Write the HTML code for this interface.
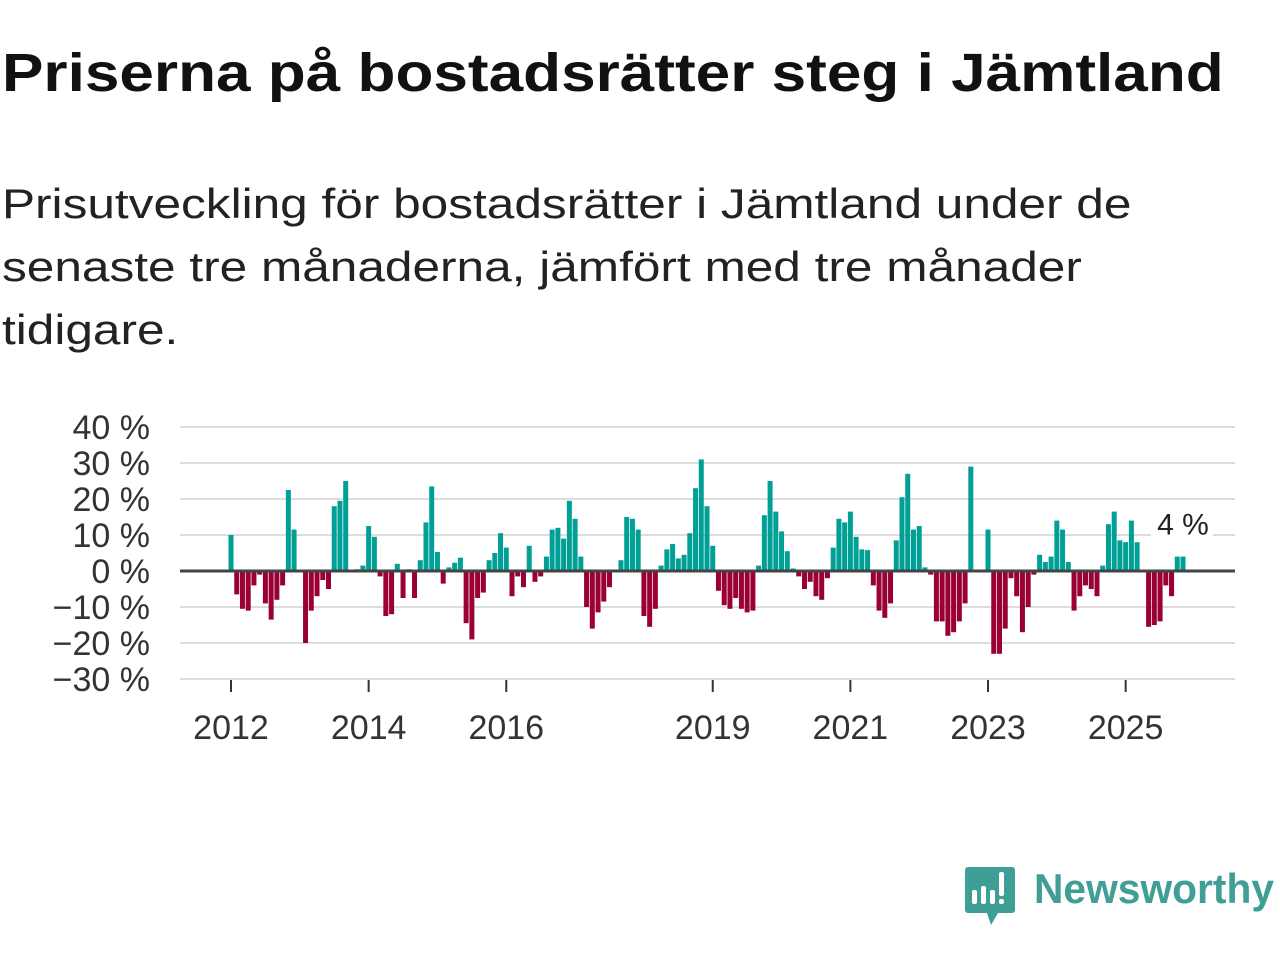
<!DOCTYPE html>
<html><head><meta charset="utf-8">
<style>
body{margin:0;background:#fff;width:1280px;height:960px;overflow:hidden;font-family:"Liberation Sans","DejaVu Sans",sans-serif;}
#title{position:absolute;left:2px;top:42px;font-size:54px;font-weight:bold;color:#111;white-space:nowrap;transform:scaleX(1.15);transform-origin:0 0;}
#sub{position:absolute;left:2px;top:172px;font-size:42px;line-height:63px;color:#222;white-space:nowrap;transform:scaleX(1.18);transform-origin:0 0;}
svg{position:absolute;left:0;top:0;}
</style></head><body>
<div id="title">Priserna på bostadsrätter steg i Jämtland</div>
<div id="sub">Prisutveckling för bostadsrätter i Jämtland under de<br>senaste tre månaderna, jämfört med tre månader<br>tidigare.</div>
<svg id="chart" width="1280" height="960"></svg>
<script>
const startYear = 2012;
const values = [
10,-6.5,-10.5,-11,-4,-1,-9,-13.5,-8,-4,22.5,11.5,
0,-20,-11,-7,-2.5,-5,18,19.5,25,0,0.5,1.5,
12.5,9.5,-1.5,-12.5,-12,2,-7.5,0.5,-7.5,3,13.5,23.5,
5.3,-3.5,1,2.3,3.7,-14.5,-19,-7.5,-6,3,5,10.5,
6.5,-7,-1.5,-4.5,7,-3,-1.5,4,11.5,12,9,19.5,
14.5,4,-10,-16,-11.5,-8.5,-4.5,0,3,15,14.5,11.5,
-12.5,-15.5,-10.5,1.5,6,7.5,3.5,4.5,10.5,23,31,18,
7,-5.5,-9.5,-10.5,-7.5,-10.5,-11.5,-11,1.5,15.5,25,16.5,
11,5.5,0.7,-1.5,-5,-3,-7,-8,-2,6.5,14.5,13.5,
16.5,9.5,6,5.8,-4,-11,-13,-9,8.5,20.5,27,11.5,
12.5,1,-1,-14,-14,-18,-17,-14,-9,29,0,0,
11.5,-23,-23,-16,-2,-7,-17,-10,-1,4.5,2.5,4,
14,11.5,2.5,-11,-7,-4,-5,-7,1.5,13,16.5,8.5,
8,14,8,0,-15.5,-15,-14,-4,-7,4,4
];
const yTicks = [40,30,20,10,0,-10,-20,-30];
const yTickLabels = ["40 %","30 %","20 %","10 %","0 %","−10 %","−20 %","−30 %"];
const xTickYears = [2012,2014,2016,2019,2021,2023,2025];
const lastLabel = "4 %";

const NS="http://www.w3.org/2000/svg";
const svg=document.getElementById('chart');
const y=v=>571-v*3.6;
const x=i=>231+i*5.735;
const xYear=yr=>x((yr-startYear)*12);
function mk(t,a,p){const e=document.createElementNS(NS,t);for(const k in a)e.setAttribute(k,a[k]);(p||svg).appendChild(e);return e;}

yTicks.forEach((t,k)=>{
  if(t!==0){const g=mk('line',{x1:180,x2:1235,y1:y(t),y2:y(t),stroke:'#ddd','stroke-width':2});
  
  }
  const l=mk('text',{x:150,y:y(t)+12,'text-anchor':'end','font-size':34,fill:'#333','font-family':'Liberation Sans, DejaVu Sans, sans-serif'});
  l.textContent=yTickLabels[k];
  
  
});
values.forEach((v,i)=>{
  if(v===0)return;
  const b=mk('rect',{x:x(i)-2.5,width:5,y:Math.min(y(v),y(0)),height:Math.abs(y(v)-y(0)),fill:v>0?'#00a096':'#9a0036'});
  
  
});
const z=mk('line',{x1:180,x2:1235,y1:y(0),y2:y(0),stroke:'#444','stroke-width':3});


xTickYears.forEach(yr=>{
  const t=mk('line',{x1:xYear(yr),x2:xYear(yr),y1:680,y2:692,stroke:'#333','stroke-width':2});
  
  
  const l=mk('text',{x:xYear(yr),y:739,'text-anchor':'middle','font-size':34,fill:'#333','font-family':'Liberation Sans, DejaVu Sans, sans-serif'});
  l.textContent=yr;
  
  
});
const li=values.length-1;
const bg=mk('rect',{x:x(li)-32,y:y(values[li])-45,width:62,height:34,fill:'#fff'});


const vl=mk('text',{x:x(li),y:y(values[li])-22,'text-anchor':'middle','font-size':30,fill:'#222','font-family':'Liberation Sans, DejaVu Sans, sans-serif'});
vl.textContent=lastLabel;


</script>
<svg width="1280" height="960" style="pointer-events:none">
<path d="M968 867 h44 a3 3 0 0 1 3 3 v40 a3 3 0 0 1 -3 3 h-14 l-7 12 l-4 -12 h-19 a3 3 0 0 1 -3 -3 v-40 a3 3 0 0 1 3 -3z" fill="#3f9e95"/>
<rect x="972" y="890" width="5" height="14" rx="2" fill="#fff"/>
<rect x="981" y="886" width="5" height="18" rx="2" fill="#fff"/>
<rect x="990" y="890" width="5" height="14" rx="2" fill="#fff"/>
<rect x="999" y="872" width="5" height="24" rx="2" fill="#fff"/>
<rect x="999" y="899" width="5" height="5" rx="2" fill="#fff"/>
<text x="1034" y="903" font-size="42" font-weight="bold" fill="#3f9e95" font-family="Liberation Sans, DejaVu Sans, sans-serif" textLength="240" lengthAdjust="spacingAndGlyphs">Newsworthy</text>
</svg>
</body></html>
